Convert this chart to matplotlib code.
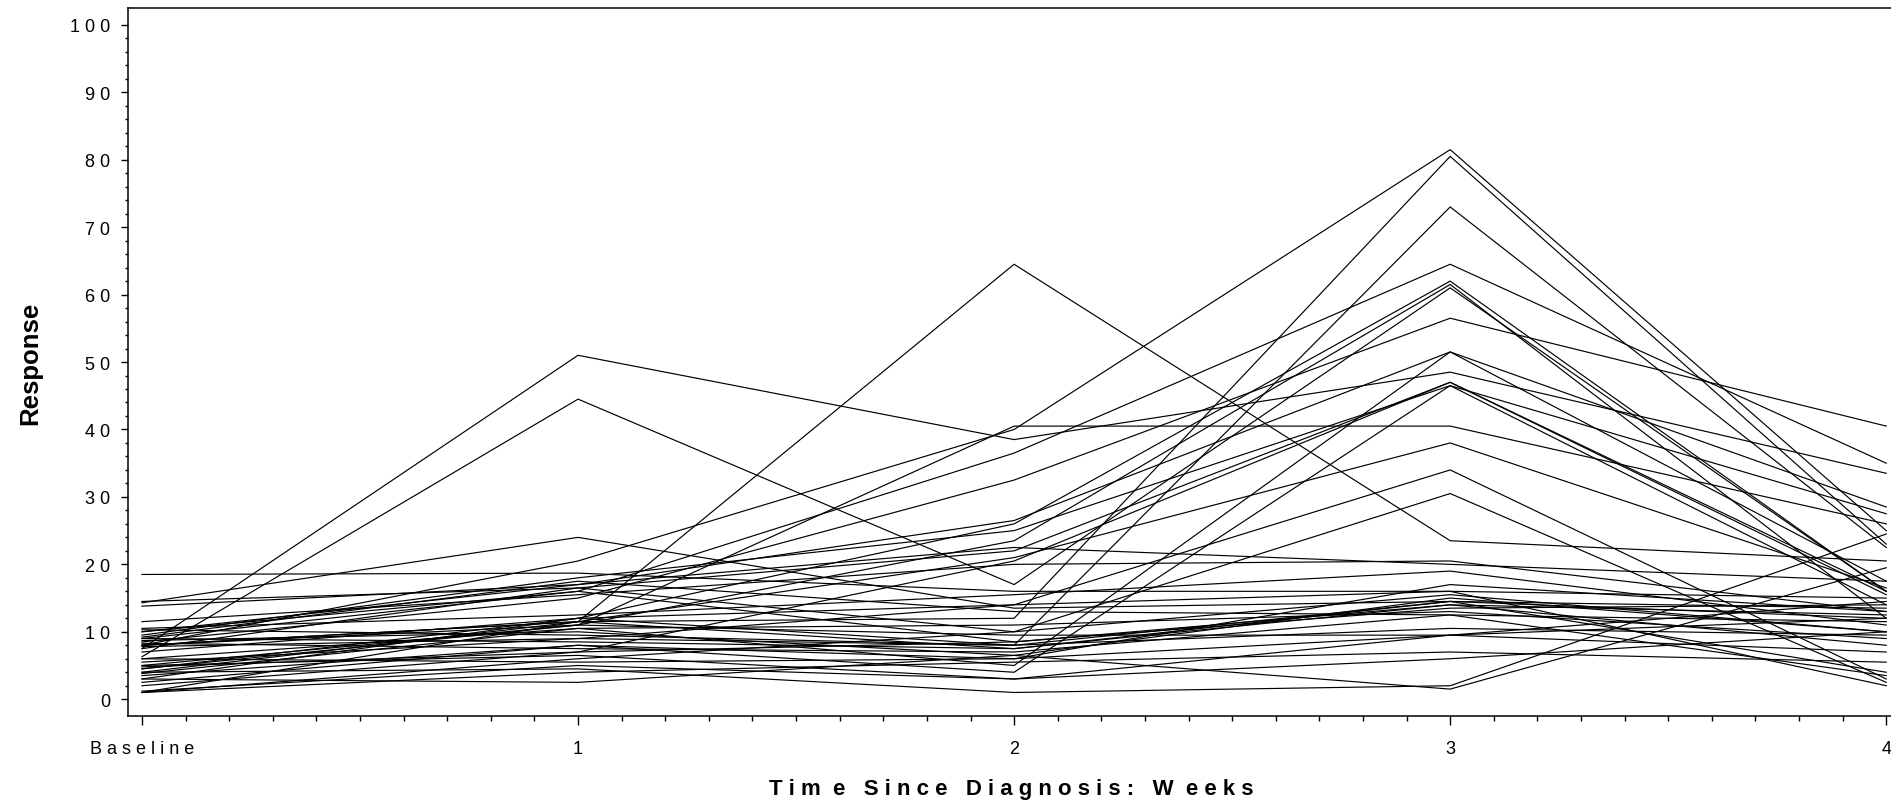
import numpy as np
import matplotlib
matplotlib.use("Agg")
import matplotlib.pyplot as plt

plt.rcParams['font.family'] = ['Liberation Sans', 'DejaVu Sans']

# time points and tick labels
weeks = [0, 1, 2, 3, 4]
week_labels = ['Baseline', '1', '2', '3', '4']

# response of each subject at every visit (one entry per subject)
baseline = [7.5, 6.3, 8.0, 8.0, 4.0, 3.0, 9.0, 5.0, 7.0, 4.5, 2.0, 8.5, 10.0, 6.0, 9.5,
            14.5, 3.5, 8.0, 5.5, 1.0, 18.5, 14.3, 13.8, 11.5, 10.5, 10.3, 10.0, 9.0, 8.7, 8.3,
            8.0, 7.8, 6.0, 5.0, 4.8, 4.0, 3.0, 1.0, 1.2, 1.0, 2.5, 3.8, 7.5, 9.2, 4.5]
week1 = [51.0, 44.5, 11.5, 20.5, 11.5, 12.0, 16.0, 11.0, 12.0, 11.0, 7.0, 15.0, 17.0, 10.5, 18.0,
         16.5, 8.0, 11.5, 9.0, 6.0, 18.7, 24.0, 17.0, 15.5, 12.5, 9.5, 16.0, 8.5, 10.0, 7.5,
         11.0, 9.0, 5.5, 6.5, 7.0, 4.5, 2.5, 4.0, 5.0, 11.5, 8.0, 10.5, 16.5, 17.5, 12.0]
week2 = [38.5, 17.0, 64.5, 40.0, 12.0, 8.0, 36.5, 40.5, 26.0, 23.5, 20.5, 32.5, 26.5, 5.0, 25.0,
         22.0, 4.0, 21.0, 14.0, 10.0, 16.0, 13.5, 22.5, 20.0, 15.5, 8.0, 8.5, 7.5, 6.5, 7.0,
         9.5, 8.0, 6.0, 3.0, 8.5, 1.0, 6.5, 5.5, 3.0, 7.5, 6.0, 11.0, 10.0, 13.0, 14.0]
week3 = [48.5, 61.0, 23.5, 81.5, 80.5, 73.0, 64.5, 40.5, 62.0, 61.5, 47.0, 56.5, 51.5, 51.5, 46.5,
         47.0, 46.5, 38.0, 34.0, 30.5, 16.0, 14.5, 20.0, 20.5, 19.0, 14.5, 13.5, 14.0, 15.0, 12.5,
         9.5, 10.5, 17.0, 9.5, 14.0, 2.0, 1.5, 7.0, 6.0, 14.5, 9.5, 13.0, 15.5, 12.5, 16.0]
week4 = [33.5, 16.0, 20.5, 25.0, 23.0, 22.5, 35.0, 26.0, 16.0, 12.0, 15.5, 40.5, 28.5, 17.5, 27.5,
         16.0, 14.0, 16.5, 3.0, 2.5, 15.0, 12.0, 17.5, 13.0, 11.0, 13.5, 14.0, 12.5, 10.0, 11.5,
         14.5, 9.5, 13.0, 12.0, 8.0, 24.5, 19.5, 5.5, 10.0, 4.0, 7.0, 9.0, 10.0, 3.5, 2.0]

fig = plt.figure(figsize=(18.91, 8.03), dpi=100)
ax = fig.add_axes([0.0677, 0.107, 0.9344, 0.8818])

for i in range(len(baseline)):
    y = [baseline[i], week1[i], week2[i], week3[i], week4[i]]
    ax.plot(weeks, y, color='black', linewidth=0.85)

ax.set_xlim(-0.032, 4.02)
ax.set_ylim(-2.5, 102.5)


def spaced(s):
    # SAS style letter spacing
    return ' '.join(list(s))


ax.set_xticks(weeks)
ax.set_xticklabels([spaced(s) for s in week_labels], fontsize=13)
ax.set_xticks(np.arange(0, 4.01, 0.1), minor=True)
ax.set_yticks(np.arange(0, 101, 10))
ax.set_yticklabels([spaced(str(v)) for v in range(0, 101, 10)], fontsize=13)
ax.set_yticks(np.arange(0, 101, 2), minor=True)

ax.tick_params(axis='x', which='major', length=6.5, width=1.0, pad=11)
ax.tick_params(axis='x', which='minor', length=3.6, width=1.0)
ax.tick_params(axis='y', which='major', length=5, width=1.0, pad=8)
ax.tick_params(axis='y', which='minor', length=2.5, width=1.0)

for sp in ax.spines.values():
    sp.set_linewidth(1.1)

xlab = '   '.join(spaced(w) for w in ['Tim', 'e', 'Since', 'Diagnosis:', 'W', 'eeks'])
xlab = xlab.replace('m   e', 'm  e').replace('W   e', 'W  e')
ax.set_xlabel(xlab, fontsize=16, fontweight='bold', labelpad=15)
ax.set_ylabel('Response', fontsize=18.5, fontweight='bold', labelpad=20)

fig.savefig('out.png', dpi=100)
